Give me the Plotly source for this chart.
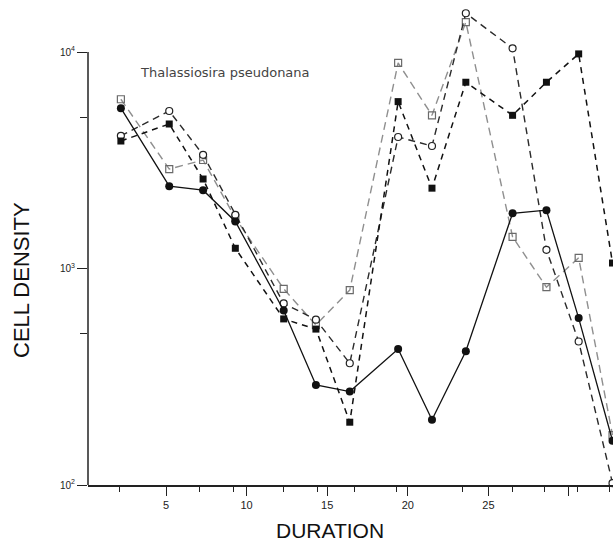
import math
import plotly.graph_objects as go

# Sampling days (x) and cell densities (cells per ml) for four cultures
days = [2.2, 5.2, 7.3, 9.3, 12.3, 14.3, 16.4, 19.4, 21.5, 23.6, 26.5, 28.6, 30.6, 32.7]

filled_circle = [5500, 2400, 2300, 1650, 640, 290, 270, 425, 200, 415, 1800, 1860, 590, 160]
filled_square = [3880, 4650, 2590, 1240, 585, 525, 195, 5900, 2350, 7250, 5100, 7250, 9800, 1060]
open_circle = [4100, 5340, 3350, 1770, 690, 580, 365, 4050, 3680, 15100, 10400, 1220, 460, 102]
open_square = [6050, 2880, 3170, 1710, 805, 548, 795, 8900, 5100, 13750, 1400, 820, 1120, 170]

# Axis ticks
x_major = [5, 10, 15, 20, 25, 30]
x_major_text = ["5", "10", "15", "20", "25", ""]
x_sample_ticks = [2.1, 7.1, 9.2, 12.3, 14.4, 16.7, 19.3, 23.4, 26.5, 28.5, 30.5, 32.5]
y_major = [100, 1000, 10000]
y_major_text = ["10<sup>2</sup>", "10<sup>3</sup>", "10<sup>4</sup>"]
y_minor = [500, 5000]

species = "Thalassiosira pseudonana"

fig = go.Figure()

fig.add_trace(go.Scatter(
    x=days, y=open_square, mode="lines+markers", cliponaxis=False,
    line=dict(color="#8f8f8f", width=1.4, dash="8px,5px"),
    marker=dict(symbol="square-open", size=7, color="#6a6a6a", line=dict(width=1.2)),
    showlegend=False,
))
fig.add_trace(go.Scatter(
    x=days, y=open_circle, mode="lines+markers", cliponaxis=False,
    line=dict(color="#2a2a2a", width=1.4, dash="7px,5px"),
    marker=dict(symbol="circle", size=7, color="white", line=dict(color="#222", width=1.2)),
    showlegend=False,
))
fig.add_trace(go.Scatter(
    x=days, y=filled_square, mode="lines+markers", cliponaxis=False,
    line=dict(color="#111", width=1.5, dash="6px,5px"),
    marker=dict(symbol="square", size=7, color="#111"),
    showlegend=False,
))
fig.add_trace(go.Scatter(
    x=days, y=filled_circle, mode="lines+markers", cliponaxis=False,
    line=dict(color="#111", width=1.3),
    marker=dict(symbol="circle", size=8, color="#111"),
    showlegend=False,
))

axis_font = dict(family="Liberation Sans, Arial, sans-serif", size=11, color="#222")

fig.update_xaxes(
    range=[0.16, 32.73], showgrid=False, zeroline=False,
    showline=True, linecolor="#222", linewidth=1.5,
    tickmode="array", tickvals=x_major, ticktext=x_major_text,
    ticks="outside", ticklen=9, tickwidth=1.3, tickcolor="#222",
    tickfont=axis_font,
    minor=dict(tickmode="array", tickvals=x_sample_ticks, ticks="outside",
               ticklen=5, tickwidth=1.2, tickcolor="#222", showgrid=False),
)
# Headroom above 10^4 so the peaks stay visible; the axis line itself stops at 10^4
y_log_range = [2, 4.2402]
fig.update_yaxes(
    type="log", range=y_log_range, showgrid=False, zeroline=False,
    showline=False,
    tickmode="array", tickvals=y_major, ticktext=y_major_text,
    ticks="outside", ticklen=10, tickwidth=1.3, tickcolor="#222",
    tickfont=dict(family="Liberation Sans, Arial, sans-serif", size=10, color="#222"),
    minor=dict(tickmode="array", tickvals=y_minor, ticks="outside",
               ticklen=7, tickwidth=1.2, tickcolor="#222", showgrid=False),
)
span = y_log_range[1] - y_log_range[0]
axis_top = (math.log10(y_major[-1]) - y_log_range[0]) / span
fig.add_shape(type="line", xref="paper", yref="paper", x0=0, x1=0,
              y0=0, y1=axis_top, line=dict(color="#222", width=1.5), layer="above")

title_font = dict(family="Liberation Sans, Arial, sans-serif", size=21, color="#111")
fig.add_annotation(text="DURATION", xref="paper", yref="paper", x=0.461, y=-0.0928,
                   showarrow=False, font=title_font, xanchor="center", yanchor="middle")
fig.add_annotation(text="CELL DENSITY", xref="paper", yref="paper", x=-0.1257, y=0.4227,
                   showarrow=False, font=dict(title_font, size=22), textangle=-90,
                   xanchor="center", yanchor="middle")
fig.add_annotation(text=species, xref="paper", yref="paper", x=0.0952, y=0.8515,
                   showarrow=False, xanchor="left", yanchor="middle",
                   font=dict(family="DejaVu Sans, sans-serif", size=13, color="#444"))

fig.update_layout(
    width=613, height=543,
    margin=dict(l=88, r=0, t=0, b=58),
    paper_bgcolor="white", plot_bgcolor="white",
)

fig.write_html("out.html")
